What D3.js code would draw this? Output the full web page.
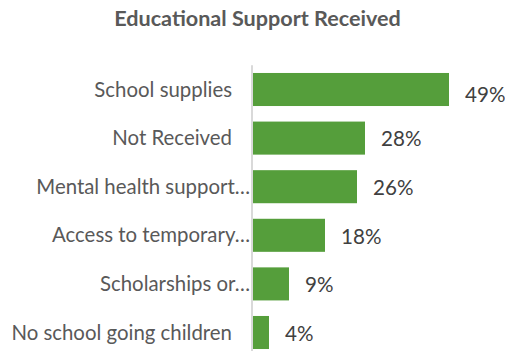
<!DOCTYPE html>
<html>
<head>
<meta charset="utf-8">
<script src="https://cdn.jsdelivr.net/npm/d3@7"></script>
<style>
  html, body { margin: 0; padding: 0; background: #fff; }
  svg { display: block; }
</style>
</head>
<body>
<svg id="chart" width="505" height="351"></svg>
<script>
// Share of households by type of educational support received
const categories = [
  "School supplies",
  "Not Received",
  "Mental health support…",
  "Access to temporary…",
  "Scholarships or…",
  "No school going children"
];
const values = [49, 28, 26, 18, 9, 4];
const valueLabels = ["49%", "28%", "26%", "18%", "9%", "4%"];
const chartTitle = "Educational Support Received";

const svg = d3.select("#chart");
const font = "Lato, 'Open Sans', sans-serif";

const x = d3.scaleLinear().domain([0, 49]).range([253, 449]);
const y = d3.scaleBand()
  .domain(categories)
  .range([65.2, 356.8])
  .paddingInner(0.32)
  .paddingOuter(0.16);

// Title
svg.append("text")
  .attr("x", 257.5)
  .attr("y", 26)
  .attr("text-anchor", "middle")
  .attr("font-family", font)
  .attr("font-weight", "bold")
  .attr("font-size", 21.6)
  .attr("fill", "#595959")
  .text(chartTitle);

// Bars
svg.append("g").selectAll("rect")
  .data(values)
  .join("rect")
  .attr("x", x(0))
  .attr("y", (d, i) => y(categories[i]))
  .attr("width", d => x(d) - x(0))
  .attr("height", y.bandwidth())
  .attr("fill", "#559e3b");

// Category axis line
svg.append("line")
  .attr("x1", 252).attr("x2", 252)
  .attr("y1", y.range()[0]).attr("y2", y.range()[1])
  .attr("stroke", "#d9d9d9")
  .attr("stroke-width", 2);

// Category labels (truncated names sit flush against the axis)
svg.append("g").selectAll("text")
  .data(categories)
  .join("text")
  .attr("x", d => d.endsWith("…") ? 250 : 232)
  .attr("y", d => y(d) + y.bandwidth() / 2)
  .attr("dy", "0.35em")
  .attr("text-anchor", "end")
  .attr("font-family", font)
  .attr("font-size", 20.4)
  .attr("fill", "#595959")
  .text(d => d);

// Value labels
svg.append("g").selectAll("text")
  .data(values)
  .join("text")
  .attr("x", d => x(d) + 16)
  .attr("y", (d, i) => y(categories[i]) + y.bandwidth() / 2 + (i === 0 ? 5 : 1))
  .attr("dy", "0.35em")
  .attr("font-family", font)
  .attr("font-size", 20.6)
  .attr("fill", "#404040")
  .text((d, i) => valueLabels[i]);
</script>
</body>
</html>
